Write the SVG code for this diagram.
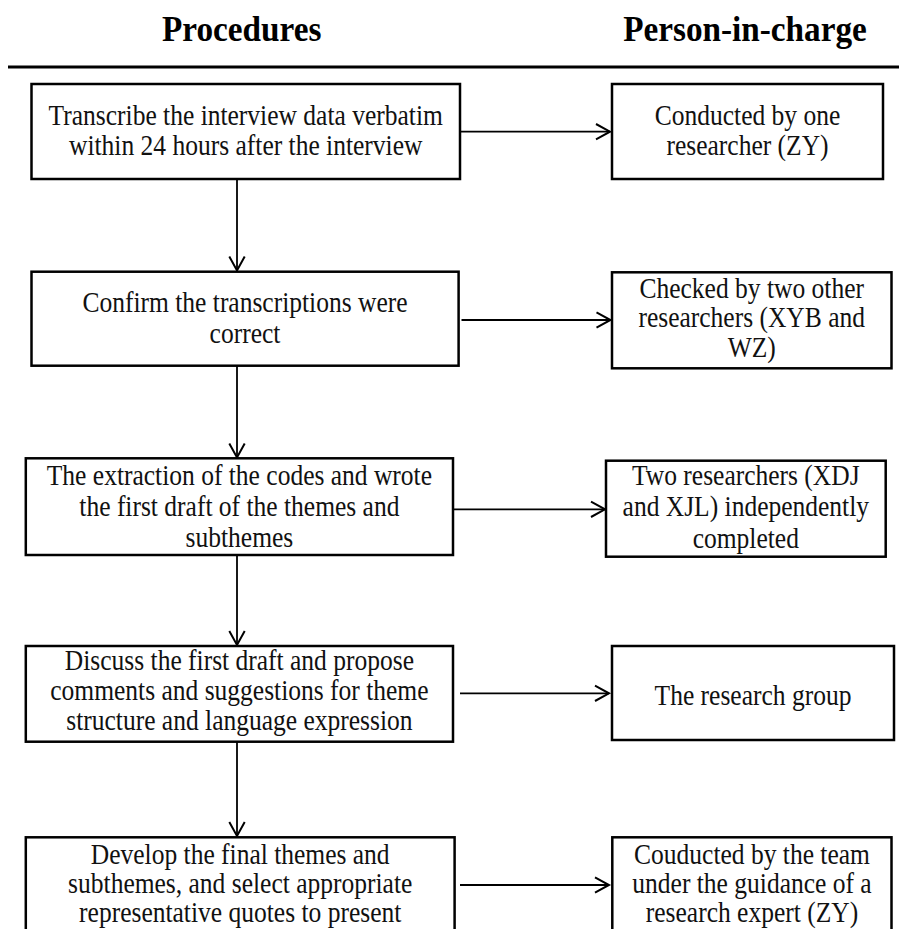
<svg xmlns="http://www.w3.org/2000/svg" width="899" height="929" viewBox="0 0 899 929" font-family="Liberation Serif">
<style>
.box{fill:#fff;stroke:#000;stroke-width:2.5}
.c{fill:none;stroke:#000;stroke-width:1.8}
</style>
<defs>
<marker id="arr" markerUnits="userSpaceOnUse" markerWidth="20" markerHeight="20" viewBox="-16 -10 18 20" refX="0" refY="0" orient="auto">
<path d="M-14,-7.7 L0,0 L-14,7.7" fill="none" stroke="#000" stroke-width="2"/>
</marker>
</defs>
<rect width="899" height="929" fill="#fff"/>
<g id="header">
<text font-family="Liberation Serif" font-size="35" font-weight="bold" text-anchor="middle" transform="translate(241.7 41) scale(0.95 1)" x="0" y="0">Procedures</text>
<text font-family="Liberation Serif" font-size="35" font-weight="bold" text-anchor="middle" transform="translate(745 41) scale(0.95 1)" x="0" y="0">Person-in-charge</text>
<line x1="8" y1="67" x2="899" y2="67" stroke="#000" stroke-width="3"/>
</g>
<g id="connectors">
<line class="c" x1="237" y1="179" x2="237" y2="270.5" marker-end="url(#arr)"/>
<line class="c" x1="237" y1="366" x2="237" y2="457.5" marker-end="url(#arr)"/>
<line class="c" x1="237" y1="555" x2="237" y2="645" marker-end="url(#arr)"/>
<line class="c" x1="237" y1="742" x2="237" y2="836" marker-end="url(#arr)"/>
<line class="c" x1="460" y1="131.7" x2="610" y2="131.7" marker-end="url(#arr)"/>
<line class="c" x1="461.5" y1="320" x2="610.5" y2="320" marker-end="url(#arr)"/>
<line class="c" x1="454" y1="509.3" x2="605" y2="509.3" marker-end="url(#arr)"/>
<line class="c" x1="460" y1="693.3" x2="609" y2="693.3" marker-end="url(#arr)"/>
<line class="c" x1="460" y1="885" x2="609" y2="885" marker-end="url(#arr)"/>
</g>
<g id="p1">
<rect class="box" x="31.5" y="84" width="428.5" height="95"/>
<text font-family="Liberation Serif" font-size="29" fill="#111" text-anchor="middle" transform="translate(245.7 0) scale(0.88 1)"><tspan x="0" y="125">Transcribe the interview data verbatim</tspan><tspan x="0" y="155">within 24 hours after the interview</tspan></text>
</g>
<g id="p2">
<rect class="box" x="31.5" y="271.7" width="427.1" height="94"/>
<text font-family="Liberation Serif" font-size="29" fill="#111" text-anchor="middle" transform="translate(245 0) scale(0.88 1)"><tspan x="0" y="312">Confirm the transcriptions were</tspan><tspan x="0" y="343">correct</tspan></text>
</g>
<g id="p3">
<rect class="box" x="25.8" y="458.3" width="427.2" height="96.7"/>
<text font-family="Liberation Serif" font-size="29" fill="#111" text-anchor="middle" transform="translate(239.4 0) scale(0.88 1)"><tspan x="0" y="485">The extraction of the codes and wrote</tspan><tspan x="0" y="516">the first draft of the themes and</tspan><tspan x="0" y="547">subthemes</tspan></text>
</g>
<g id="p4">
<rect class="box" x="25.8" y="646" width="427.2" height="95.7"/>
<text font-family="Liberation Serif" font-size="29" fill="#111" text-anchor="middle" transform="translate(239.4 0) scale(0.88 1)"><tspan x="0" y="670">Discuss the first draft and propose</tspan><tspan x="0" y="700">comments and suggestions for theme</tspan><tspan x="0" y="730">structure and language expression</tspan></text>
</g>
<g id="p5">
<rect class="box" x="25.8" y="837.3" width="428.8" height="100"/>
<text font-family="Liberation Serif" font-size="29" fill="#111" text-anchor="middle" transform="translate(240.2 0) scale(0.88 1)"><tspan x="0" y="864">Develop the final themes and</tspan><tspan x="0" y="893">subthemes, and select appropriate</tspan><tspan x="0" y="922">representative quotes to present</tspan></text>
</g>
<g id="r1">
<rect class="box" x="612" y="84" width="271" height="95"/>
<text font-family="Liberation Serif" font-size="29" fill="#111" text-anchor="middle" transform="translate(747.5 0) scale(0.88 1)"><tspan x="0" y="125">Conducted by one</tspan><tspan x="0" y="155">researcher (ZY)</tspan></text>
</g>
<g id="r2">
<rect class="box" x="612" y="272.3" width="279.5" height="96"/>
<text font-family="Liberation Serif" font-size="29" fill="#111" text-anchor="middle" transform="translate(751.7 0) scale(0.88 1)"><tspan x="0" y="298">Checked by two other</tspan><tspan x="0" y="327.5">researchers (XYB and</tspan><tspan x="0" y="357">WZ)</tspan></text>
</g>
<g id="r3">
<rect class="box" x="606" y="460.7" width="279.7" height="96"/>
<text font-family="Liberation Serif" font-size="29" fill="#111" text-anchor="middle" transform="translate(745.8 0) scale(0.88 1)"><tspan x="0" y="485">Two researchers (XDJ</tspan><tspan x="0" y="516.5">and XJL) independently</tspan><tspan x="0" y="548">completed</tspan></text>
</g>
<g id="r4">
<rect class="box" x="612" y="646" width="282" height="94"/>
<text font-family="Liberation Serif" font-size="29" fill="#111" text-anchor="middle" transform="translate(753 0) scale(0.88 1)"><tspan x="0" y="705">The research group</tspan></text>
</g>
<g id="r5">
<rect class="box" x="612.3" y="837.3" width="279.2" height="100"/>
<text font-family="Liberation Serif" font-size="29" fill="#111" text-anchor="middle" transform="translate(752 0) scale(0.88 1)"><tspan x="0" y="864">Couducted by the team</tspan><tspan x="0" y="893">under the guidance of a</tspan><tspan x="0" y="922">research expert (ZY)</tspan></text>
</g>
</svg>
